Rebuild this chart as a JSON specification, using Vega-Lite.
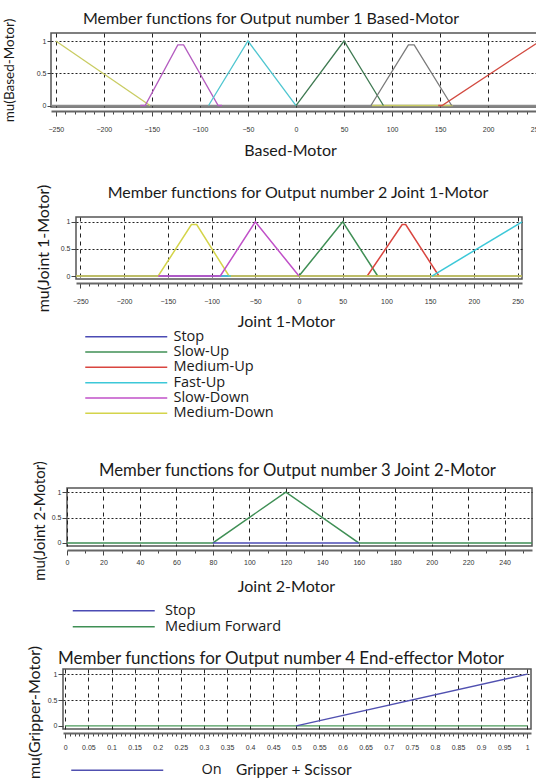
{
  "$schema": "https://vega.github.io/schema/vega-lite/v6.json",
  "padding": {"left": 0, "top": 10, "right": 0, "bottom": 0},
  "background": "white",
  "config": {
    "font": "Lato",
    "title": {"font": "Lato", "fontWeight": "normal", "fontSize": 16, "color": "#1a1a1a"},
    "axis": {"labelFont": "Liberation Sans", "labelFontSize": 7, "labelColor": "#333", "tickColor": "#444", "titleFont": "Lato", "titleFontWeight": "normal", "titleColor": "#1a1a1a", "labelOverlap": false, "labelFlush": false},
    "legend": {"labelFont": "Open Sans", "labelFontSize": 14.5, "labelColor": "#1a1a1a", "titleFont": "Lato", "titleFontWeight": "normal", "titleFontSize": 15.5, "titleColor": "#1a1a1a"},
    "view": {"stroke": "#555", "strokeWidth": 1.5}
  },
  "data": {"values": [
    {"p":1,"s":"mf0","g":"1a","x":-255,"y":0},{"p":1,"s":"mf0","g":"1a","x":255,"y":0},
    {"p":1,"s":"mf1","g":"1b","x":-250,"y":1},{"p":1,"s":"mf1","g":"1b","x":-152,"y":0},
    {"p":1,"s":"mf1","g":"1c","x":79,"y":0},{"p":1,"s":"mf1","g":"1c","x":163,"y":0},
    {"p":1,"s":"mf2","g":"1d","x":-162,"y":0},{"p":1,"s":"mf2","g":"1d","x":-157,"y":0},{"p":1,"s":"mf2","g":"1d","x":-123,"y":0.94},{"p":1,"s":"mf2","g":"1d","x":-117,"y":0.94},{"p":1,"s":"mf2","g":"1d","x":-81,"y":0},{"p":1,"s":"mf2","g":"1d","x":-77,"y":0},
    {"p":1,"s":"mf3","g":"1e","x":-91,"y":0},{"p":1,"s":"mf3","g":"1e","x":-50,"y":1},{"p":1,"s":"mf3","g":"1e","x":0,"y":0},
    {"p":1,"s":"mf4","g":"1f","x":0,"y":0},{"p":1,"s":"mf4","g":"1f","x":50,"y":1},{"p":1,"s":"mf4","g":"1f","x":91,"y":0},
    {"p":1,"s":"mf5","g":"1g","x":78,"y":0},{"p":1,"s":"mf5","g":"1g","x":117,"y":0.94},{"p":1,"s":"mf5","g":"1g","x":123,"y":0.94},{"p":1,"s":"mf5","g":"1g","x":162,"y":0},
    {"p":1,"s":"mf6","g":"1h","x":148,"y":0},{"p":1,"s":"mf6","g":"1h","x":152,"y":0},{"p":1,"s":"mf6","g":"1h","x":254,"y":1},

    {"p":2,"s":"Stop","g":"2a","x":-255,"y":0},{"p":2,"s":"Stop","g":"2a","x":255,"y":0},
    {"p":2,"s":"Slow-Up","g":"2b","x":0,"y":0},{"p":2,"s":"Slow-Up","g":"2b","x":50,"y":1},{"p":2,"s":"Slow-Up","g":"2b","x":90,"y":0},
    {"p":2,"s":"Medium-Up","g":"2c","x":78,"y":0},{"p":2,"s":"Medium-Up","g":"2c","x":118,"y":0.95},{"p":2,"s":"Medium-Up","g":"2c","x":122,"y":0.95},{"p":2,"s":"Medium-Up","g":"2c","x":160,"y":0},
    {"p":2,"s":"Medium-Down","g":"2d","x":-255,"y":0},{"p":2,"s":"Medium-Down","g":"2d","x":-161,"y":0},{"p":2,"s":"Medium-Down","g":"2d","x":-123,"y":0.95},{"p":2,"s":"Medium-Down","g":"2d","x":-117,"y":0.95},{"p":2,"s":"Medium-Down","g":"2d","x":-80,"y":0},{"p":2,"s":"Medium-Down","g":"2d","x":255,"y":0},
    {"p":2,"s":"Fast-Up","g":"2e","x":-91,"y":0},{"p":2,"s":"Fast-Up","g":"2e","x":-78,"y":0},
    {"p":2,"s":"Fast-Up","g":"2f","x":152,"y":0},{"p":2,"s":"Fast-Up","g":"2f","x":255,"y":1},
    {"p":2,"s":"Slow-Down","g":"2g","x":-161,"y":0},{"p":2,"s":"Slow-Down","g":"2g","x":-90,"y":0},{"p":2,"s":"Slow-Down","g":"2g","x":-50,"y":1},{"p":2,"s":"Slow-Down","g":"2g","x":0,"y":0},

    {"p":3,"s":"Medium Forward","g":"3a","x":0,"y":0},{"p":3,"s":"Medium Forward","g":"3a","x":80,"y":0},{"p":3,"s":"Medium Forward","g":"3a","x":120,"y":1},{"p":3,"s":"Medium Forward","g":"3a","x":160,"y":0},{"p":3,"s":"Medium Forward","g":"3a","x":255,"y":0},
    {"p":3,"s":"Stop","g":"3b","x":80,"y":0},{"p":3,"s":"Stop","g":"3b","x":160,"y":0},

    {"p":4,"s":"Off","g":"4a","x":0,"y":0},{"p":4,"s":"Off","g":"4a","x":1,"y":0},
    {"p":4,"s":"On","g":"4b","x":0.5,"y":0},{"p":4,"s":"On","g":"4b","x":1,"y":1}
  ]},
  "resolve": {"scale": {"color": "independent", "x": "independent", "y": "independent"}, "legend": {"color": "independent"}},
  "spacing": 0,
  "vconcat": [
    {
      "spacing": 0,
      "resolve": {"scale": {"color": "independent"}, "legend": {"color": "independent"}},
      "hconcat": [
        {"width": 0.5, "height": 1, "data": {"values": []}, "mark": "point", "view": {"stroke": null}},
        {
          "width": 490, "height": 74,
          "title": {"text": "Member functions for Output number 1 Based-Motor", "anchor": "middle", "frame": "group", "dx": -25, "offset": -9},
          "transform": [{"filter": "datum.p == 1"}],
          "mark": {"type": "line", "strokeWidth": 1.3},
          "encoding": {
            "x": {"field": "x", "type": "quantitative", "scale": {"domain": [-255, 255], "nice": false, "zero": false},
              "axis": {"values": [-250,-240,-230,-220,-210,-200,-190,-180,-170,-160,-150,-140,-130,-120,-110,-100,-90,-80,-70,-60,-50,-40,-30,-20,-10,0,10,20,30,40,50,60,70,80,90,100,110,120,130,140,150,160,170,180,190,200,210,220,230,240,250],
                "labelExpr": "datum.value % 50 === 0 ? datum.label : ''", "labelPadding": 9,
                "tickSize": {"condition": {"test": "datum.value % 50 === 0", "value": 5}, "value": 3},
                "offset": 4, "domainColor": "#666", "domainWidth": 2,
                "grid": true, "gridDash": [4, 4], "gridColor": "#222",
                "gridOpacity": {"condition": {"test": "datum.value % 50 === 0", "value": 1}, "value": 0},
                "title": "Based-Motor", "titleFontSize": 16, "titleX": 239, "titleY": 39, "titleBaseline": "middle", "titleAlign": "center"}},
            "y": {"field": "y", "type": "quantitative", "scale": {"domain": [-0.023, 1.124], "nice": false, "zero": false},
              "axis": {"values": [0, 0.5, 1], "format": "~g", "tickSize": 4, "labelPadding": 1, "domain": false,
                "grid": true, "gridDash": [2, 2], "gridColor": "#222",
                "gridOpacity": {"condition": {"test": "datum.value === 0", "value": 0}, "value": 1},
                "title": "mu(Based-Motor)", "titleFontSize": 13.5, "titleX": -42, "titleY": 37, "titleBaseline": "middle", "titleAlign": "center", "titleAngle": 270}},
            "color": {"field": "s", "type": "nominal", "scale": {"domain": ["mf0","mf1","mf2","mf3","mf4","mf5","mf6"], "range": ["#8a8a8a","#c9cc62","#b45cc0","#4fc6d0","#3f7a52","#7a7a7a","#d24a40"]}, "legend": null},
            "detail": {"field": "g", "type": "nominal"}
          }
        }
      ]
    },
    {"width": 1, "height": 23.5, "data": {"values": []}, "mark": "point", "view": {"stroke": null}},
    {
      "spacing": 0,
      "resolve": {"scale": {"color": "independent"}, "legend": {"color": "independent"}},
      "hconcat": [
        {"width": 33.5, "height": 1, "data": {"values": []}, "mark": "point", "view": {"stroke": null}},
        {
          "width": 446, "height": 62,
          "title": {"text": "Member functions for Output number 2 Joint 1-Motor", "anchor": "middle", "frame": "group", "dx": -1, "offset": -16.5},
          "transform": [{"filter": "datum.p == 2"}],
          "mark": {"type": "line", "strokeWidth": 1.5},
          "encoding": {
            "x": {"field": "x", "type": "quantitative", "scale": {"domain": [-255, 255], "nice": false, "zero": false},
              "axis": {"values": [-250,-240,-230,-220,-210,-200,-190,-180,-170,-160,-150,-140,-130,-120,-110,-100,-90,-80,-70,-60,-50,-40,-30,-20,-10,0,10,20,30,40,50,60,70,80,90,100,110,120,130,140,150,160,170,180,190,200,210,220,230,240,250],
                "labelExpr": "datum.value % 50 === 0 ? datum.label : ''", "labelPadding": 9,
                "tickSize": {"condition": {"test": "datum.value % 50 === 0", "value": 5}, "value": 3},
                "offset": 4, "domainColor": "#666", "domainWidth": 2,
                "grid": true, "gridDash": [4, 4], "gridColor": "#222",
                "gridOpacity": {"condition": {"test": "datum.value % 50 === 0", "value": 1}, "value": 0},
                "title": "Joint 1-Motor", "titleFontSize": 16, "titleX": 210, "titleY": 38, "titleBaseline": "middle", "titleAlign": "center"}},
            "y": {"field": "y", "type": "quantitative", "scale": {"domain": [-0.055, 1.09], "nice": false, "zero": false},
              "axis": {"values": [0, 0.5, 1], "format": "~g", "tickSize": 5, "labelPadding": 1, "domain": false,
                "grid": true, "gridDash": [2, 2], "gridColor": "#222",
                "gridOpacity": {"condition": {"test": "datum.value === 0", "value": 0}, "value": 1},
                "title": "mu(Joint 1-Motor)", "titleFontSize": 16, "titleX": -33, "titleY": 31, "titleBaseline": "middle", "titleAlign": "center", "titleAngle": 270}},
            "color": {"field": "s", "type": "nominal", "scale": {"domain": ["Stop","Slow-Up","Medium-Up","Fast-Up","Slow-Down","Medium-Down"], "range": ["#4b4bb4","#3f8f55","#d9453f","#3cc8d8","#c050c8","#d4d44a"]},
              "legend": {"orient": "none", "legendX": 8, "legendY": 112.5, "title": null, "direction": "vertical", "symbolType": "M-6.833,0H6.833", "symbolSize": 144, "symbolOffset": 35, "symbolStrokeWidth": 1.5, "labelOffset": 40, "rowPadding": 0.3, "padding": 0}},
            "detail": {"field": "g", "type": "nominal"}
          }
        }
      ]
    },
    {"width": 1, "height": 36.5, "data": {"values": []}, "mark": "point", "view": {"stroke": null}},
    {
      "spacing": 0,
      "resolve": {"scale": {"color": "independent"}, "legend": {"color": "independent"}},
      "hconcat": [
        {"width": 30.5, "height": 1, "data": {"values": []}, "mark": "point", "view": {"stroke": null}},
        {
          "width": 465, "height": 58,
          "title": {"text": "Member functions for Output number 3 Joint 2-Motor", "anchor": "middle", "frame": "group", "dx": -2, "offset": -19, "fontSize": 16.7},
          "transform": [{"filter": "datum.p == 3"}],
          "mark": {"type": "line", "strokeWidth": 1.4},
          "encoding": {
            "x": {"field": "x", "type": "quantitative", "scale": {"domain": [0, 255], "nice": false, "zero": false},
              "axis": {"values": [0,10,20,30,40,50,60,70,80,90,100,110,120,130,140,150,160,170,180,190,200,210,220,230,240,250],
                "labelExpr": "datum.value % 20 === 0 ? datum.label : ''", "labelPadding": 3,
                "tickSize": {"condition": {"test": "datum.value % 20 === 0", "value": 5}, "value": 3},
                "offset": 4, "domainColor": "#666", "domainWidth": 2,
                "grid": true, "gridDash": [4, 4], "gridColor": "#222",
                "gridOpacity": {"condition": {"test": "datum.value % 20 === 0", "value": 1}, "value": 0},
                "title": "Joint 2-Motor", "titleFontSize": 16, "titleX": 219, "titleY": 36, "titleBaseline": "middle", "titleAlign": "center"}},
            "y": {"field": "y", "type": "quantitative", "scale": {"domain": [-0.06, 1.08], "nice": false, "zero": false},
              "axis": {"values": [0, 0.5, 1], "format": "~g", "tickSize": 5, "labelPadding": 1, "domain": false,
                "grid": true, "gridDash": [2, 2], "gridColor": "#222",
                "gridOpacity": {"condition": {"test": "datum.value === 0", "value": 0}, "value": 1},
                "title": "mu(Joint 2-Motor)", "titleFontSize": 15, "titleX": -28, "titleY": 32.5, "titleBaseline": "middle", "titleAlign": "center", "titleAngle": 270}},
            "color": {"field": "s", "type": "nominal", "scale": {"domain": ["Stop","Medium Forward"], "range": ["#4b4bb4","#3f8f55"]},
              "legend": {"orient": "none", "legendX": 4.5, "legendY": 115.5, "title": null, "direction": "vertical", "symbolType": "M-6.833,0H6.833", "symbolSize": 144, "symbolOffset": 35, "symbolStrokeWidth": 1.5, "labelOffset": 44, "rowPadding": 1, "padding": 0}},
            "detail": {"field": "g", "type": "nominal"}
          }
        }
      ]
    },
    {"width": 1, "height": 9, "data": {"values": []}, "mark": "point", "view": {"stroke": null}},
    {
      "spacing": 0,
      "resolve": {"scale": {"color": "independent"}, "legend": {"color": "independent"}},
      "hconcat": [
        {"width": 25, "height": 1, "data": {"values": []}, "mark": "point", "view": {"stroke": null}},
        {
          "width": 468, "height": 60,
          "title": {"text": "Member functions for Output number 4 End-effector Motor", "anchor": "middle", "frame": "group", "dx": -16, "offset": -22.5, "fontSize": 17},
          "transform": [{"filter": "datum.p == 4"}],
          "mark": {"type": "line", "strokeWidth": 1.4},
          "encoding": {
            "x": {"field": "x", "type": "quantitative", "scale": {"domain": [-0.005, 1.008], "nice": false, "zero": false},
              "axis": {"values": [0,0.01,0.02,0.03,0.04,0.05,0.06,0.07,0.08,0.09,0.1,0.11,0.12,0.13,0.14,0.15,0.16,0.17,0.18,0.19,0.2,0.21,0.22,0.23,0.24,0.25,0.26,0.27,0.28,0.29,0.3,0.31,0.32,0.33,0.34,0.35,0.36,0.37,0.38,0.39,0.4,0.41,0.42,0.43,0.44,0.45,0.46,0.47,0.48,0.49,0.5,0.51,0.52,0.53,0.54,0.55,0.56,0.57,0.58,0.59,0.6,0.61,0.62,0.63,0.64,0.65,0.66,0.67,0.68,0.69,0.7,0.71,0.72,0.73,0.74,0.75,0.76,0.77,0.78,0.79,0.8,0.81,0.82,0.83,0.84,0.85,0.86,0.87,0.88,0.89,0.9,0.91,0.92,0.93,0.94,0.95,0.96,0.97,0.98,0.99,1],
                "format": ".2~f",
                "labelExpr": "abs(datum.value*20 - round(datum.value*20)) < 0.001 ? datum.label : ''", "labelPadding": 5,
                "tickSize": {"condition": {"test": "abs(datum.value*20 - round(datum.value*20)) < 0.001", "value": 5}, "value": 3},
                "offset": 4, "domainColor": "#666", "domainWidth": 2,
                "grid": true, "gridDash": [4, 4], "gridColor": "#222",
                "gridOpacity": {"condition": {"test": "abs(datum.value*20 - round(datum.value*20)) < 0.001", "value": 1}, "value": 0},
                "title": null}},
            "y": {"field": "y", "type": "quantitative", "scale": {"domain": [-0.06, 1.1], "nice": false, "zero": false},
              "axis": {"values": [0, 0.5, 1], "format": "~g", "tickSize": 5, "labelPadding": 1, "domain": false,
                "grid": true, "gridDash": [2, 2], "gridColor": "#222",
                "gridOpacity": {"condition": {"test": "datum.value === 0", "value": 0}, "value": 1},
                "title": "mu(Gripper-Motor)", "titleFontSize": 16, "titleX": -29, "titleY": 43, "titleBaseline": "middle", "titleAlign": "center", "titleAngle": 270}},
            "color": {"field": "s", "type": "nominal", "scale": {"domain": ["On","Off"], "range": ["#5050b0","#4a9a5a"]},
              "legend": {"orient": "none", "legendX": 7, "legendY": 94, "title": "Gripper + Scissor", "titleOrient": "right", "titleAnchor": "start", "titlePadding": 13, "titleBaseline": "top", "direction": "vertical", "symbolType": "M-7.667,0H7.667", "symbolSize": 144, "symbolOffset": 40, "symbolStrokeWidth": 1.5, "labelOffset": 77, "rowPadding": 1, "padding": 0}},
            "detail": {"field": "g", "type": "nominal"}
          }
        }
      ]
    }
  ]
}
